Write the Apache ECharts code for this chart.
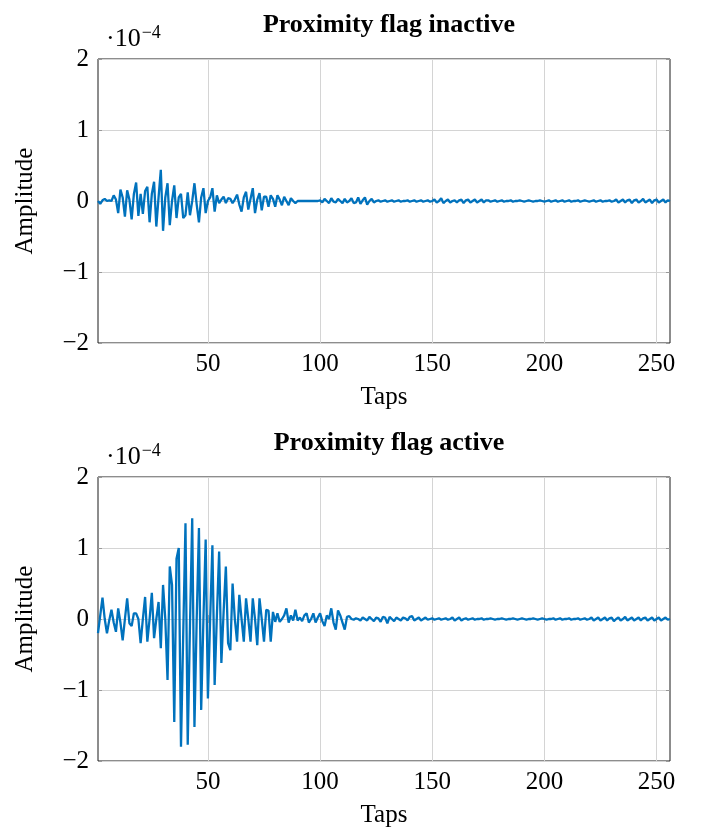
<!DOCTYPE html>
<html>
<head>
<meta charset="utf-8">
<script src="https://cdn.jsdelivr.net/npm/echarts@6/dist/echarts.min.js"></script>
<style>html,body{margin:0;padding:0;background:#fff}#c{width:705px;height:833px}</style>
</head>
<body>
<div id="c"></div>
<script>
// Titles and tick labels
const titles = ['Proximity flag inactive', 'Proximity flag active'];
const xTicks = [50, 100, 150, 200, 250];
const yTicks = [-2, -1, 0, 1, 2];
const xLabel = 'Taps';
const yLabel = 'Amplitude';
const scaleNote = '−4';

// Filter taps (amplitude in units of 1e-4), taps 1..256
const inactive = [
  0.00,-0.04,0.01,0.03,0.00,0.01,0.00,0.08,0.02,-0.17,
  0.16,0.05,-0.22,0.15,0.02,-0.26,0.10,0.26,-0.21,0.10,
  -0.18,0.14,0.20,-0.30,0.10,0.27,-0.36,0.05,0.44,-0.42,
  0.05,0.25,-0.34,0.00,0.22,-0.24,0.05,0.10,-0.24,-0.20,
  0.12,-0.20,0.00,0.25,-0.05,-0.30,0.05,0.18,-0.17,0.00,
  0.05,0.18,-0.15,0.08,-0.03,0.02,0.06,-0.03,0.04,0.03,
  -0.03,0.02,0.09,-0.05,-0.15,0.05,0.13,-0.12,0.03,0.18,
  -0.17,0.02,0.11,-0.13,0.06,0.06,-0.08,0.08,0.03,-0.08,
  0.08,0.02,-0.06,0.06,0.00,-0.06,0.04,0.00,-0.03,0.00,
  0.00,0.00,0.00,0.00,0.00,0.00,0.00,0.00,0.00,0.01,
  -0.02,0.03,0.00,-0.03,0.04,-0.01,-0.02,0.03,0.00,-0.03,
  0.03,-0.02,0.00,0.04,-0.03,-0.02,0.05,-0.04,0.01,0.05,
  -0.05,0.00,0.03,-0.02,0.00,0.01,-0.01,0.00,0.01,-0.01,
  0.00,0.01,-0.01,0.00,0.01,-0.01,0.00,0.00,0.01,-0.01,
  0.00,0.01,-0.01,0.00,0.01,-0.01,0.00,0.01,-0.01,0.00,
  0.02,-0.02,0.00,0.04,-0.03,0.00,0.02,-0.02,0.00,0.01,
  -0.02,0.01,0.02,-0.03,0.01,0.02,-0.02,0.00,0.02,-0.02,
  0.00,0.02,-0.02,0.01,0.01,-0.01,0.00,0.01,-0.01,0.00,
  0.01,-0.01,0.00,0.00,0.01,-0.01,0.00,0.00,0.01,0.00,
  -0.01,0.00,0.01,0.00,-0.01,0.00,0.00,0.01,0.00,-0.01,
  0.00,0.01,-0.01,0.00,0.01,-0.01,0.00,0.01,-0.01,0.00,
  0.01,-0.01,0.00,0.00,0.01,-0.01,0.00,0.01,0.00,-0.01,
  0.00,0.01,-0.01,0.00,0.01,-0.01,0.00,0.00,0.01,-0.01,
  0.00,0.02,-0.02,0.00,0.02,-0.02,0.01,0.02,-0.03,0.01,
  0.02,-0.02,0.00,0.03,-0.02,0.00,0.02,-0.03,0.01,0.02,
  -0.02,0.00,0.02,-0.02,0.01,0.00
];

const active = [
  -0.20,0.05,0.30,0.00,-0.20,-0.02,0.13,-0.05,-0.18,0.15,
  -0.05,-0.30,0.00,0.29,-0.06,-0.10,0.08,0.08,0.00,-0.34,
  0.00,0.31,-0.32,0.00,0.37,-0.27,0.00,0.24,-0.41,0.48,
  0.00,-0.86,0.74,0.48,-1.45,0.85,1.00,-1.80,-0.20,1.35,
  -1.77,-0.10,1.42,-1.52,0.00,1.28,-1.28,0.00,1.12,-1.12,
  0.00,1.04,-0.93,0.05,0.95,-0.62,0.10,0.74,-0.34,-0.44,
  0.50,0.00,-0.32,0.34,0.00,-0.32,0.29,0.00,-0.32,0.29,
  0.00,-0.37,0.29,0.00,-0.32,0.13,0.12,-0.32,0.10,-0.04,
  0.08,-0.04,0.00,0.05,0.15,-0.05,0.05,-0.02,0.13,-0.02,
  0.02,-0.03,0.05,0.08,-0.05,0.00,0.08,-0.05,0.02,0.08,
  -0.03,-0.10,0.05,0.00,0.15,-0.05,-0.15,0.12,0.05,-0.05,
  -0.15,0.03,0.04,0.00,-0.01,0.01,0.00,-0.02,0.02,0.00,
  -0.02,0.03,0.00,-0.03,0.02,0.01,-0.04,0.03,0.02,-0.06,
  0.03,0.00,-0.03,0.02,0.00,-0.02,0.02,0.01,-0.02,0.03,
  0.04,-0.02,0.00,0.02,-0.02,0.00,0.02,-0.01,0.00,0.01,
  -0.01,0.00,0.01,-0.01,0.00,0.01,-0.01,0.00,0.02,-0.02,
  0.00,0.02,-0.02,0.00,0.01,-0.01,0.00,0.01,-0.01,0.00,
  0.00,0.01,-0.01,0.00,0.00,0.01,0.00,-0.01,0.00,0.00,
  0.01,0.00,-0.01,0.00,0.00,0.01,0.00,-0.01,0.00,0.01,
  0.00,-0.01,0.00,0.00,0.01,0.00,-0.01,0.00,0.01,0.00,
  -0.01,0.00,0.00,0.01,-0.01,0.00,0.01,-0.01,0.00,0.00,
  0.01,-0.01,0.00,0.00,0.01,-0.01,0.00,0.01,-0.01,0.00,
  0.02,-0.02,0.00,0.02,-0.02,0.00,0.02,-0.02,0.01,0.02,
  -0.03,0.00,0.02,-0.02,0.00,0.03,-0.02,0.00,0.02,-0.02,
  0.00,0.02,-0.02,0.01,0.02,-0.02,0.00,0.02,-0.02,0.00,
  0.02,-0.02,0.00,0.02,-0.01,0.00
];

const seriesValues = [inactive, active];

const FONT = '"Liberation Serif", "Times New Roman", serif';
const LINE = '#0072BD';
const gridTops = [59, 477];
const PLOT_H = 284;

function toPairs(vals) { return vals.map((v, i) => [i + 1, v]); }
const fmtY = v => (v < 0 ? '\u2212' + Math.abs(v) : String(v));

const grids = [], xAxes = [], yAxes = [], series = [], titleOpts = [], graphics = [];

gridTops.forEach((top, g) => {
  grids.push({ left: 98, top: top, width: 572, height: PLOT_H, show: true,
    borderColor: '#1a1a1a', borderWidth: 1, backgroundColor: 'transparent', containLabel: false });
  xAxes.push({ type: 'value', gridIndex: g, min: 1, max: 256, position: 'bottom',
    axisLine: { show: false },
    axisTick: { show: true, inside: true, length: 4, customValues: xTicks, lineStyle: { color: '#999' } },
    axisLabel: { show: true, customValues: xTicks, color: '#000', fontFamily: FONT, fontSize: 25, margin: 9 },
    splitLine: { show: true, lineStyle: { color: '#d4d4d4', width: 1 } },
    name: xLabel, nameLocation: 'middle', nameGap: 42,
    nameTextStyle: { color: '#000', fontFamily: FONT, fontSize: 25 } });
  xAxes.push({ type: 'value', gridIndex: g, min: 1, max: 256, position: 'top',
    axisLine: { show: false },
    axisTick: { show: true, inside: true, length: 4, customValues: xTicks, lineStyle: { color: '#999' } },
    axisLabel: { show: false }, splitLine: { show: false } });
  yAxes.push({ type: 'value', gridIndex: g, min: -2, max: 2, interval: 1, position: 'left',
    axisLine: { show: false },
    axisTick: { show: true, inside: true, length: 4, lineStyle: { color: '#999' } },
    axisLabel: { show: true, formatter: fmtY, color: '#000', fontFamily: FONT, fontSize: 25, margin: 9 },
    splitLine: { show: true, lineStyle: { color: '#d4d4d4', width: 1 } },
    name: yLabel, nameLocation: 'middle', nameGap: 60, nameRotate: 90,
    nameTextStyle: { color: '#000', fontFamily: FONT, fontSize: 25 } });
  yAxes.push({ type: 'value', gridIndex: g, min: -2, max: 2, interval: 1, position: 'right',
    axisLine: { show: false },
    axisTick: { show: true, inside: true, length: 4, lineStyle: { color: '#999' } },
    axisLabel: { show: false }, splitLine: { show: false } });

  series.push({ type: 'line', xAxisIndex: g * 2, yAxisIndex: g * 2, data: toPairs(seriesValues[g]),
    showSymbol: false, symbol: 'none', smooth: false, clip: true,
    lineStyle: { color: LINE, width: 2.3 }, itemStyle: { color: LINE }, z: 5, animation: false });

  titleOpts.push({ text: titles[g], left: 384, textAlign: 'center', top: top - 52,
    textStyle: { fontFamily: FONT, fontSize: 26, fontWeight: 'bold', color: '#000' } });

  graphics.push({ type: 'text', left: 106, top: top - 35,
    style: { text: '{m|\u00b710}{s|' + scaleNote + '}', fill: '#000',
      rich: { m: { fontFamily: FONT, fontSize: 26, verticalAlign: 'bottom', lineHeight: 28 },
              s: { fontFamily: FONT, fontSize: 18, verticalAlign: 'top', lineHeight: 28, padding: [0, 0, 12, 1] } } } });
});

const chart = echarts.init(document.getElementById('c'), null, { renderer: 'canvas' });
chart.setOption({
  animation: false,
  backgroundColor: '#fff',
  title: titleOpts,
  grid: grids,
  xAxis: xAxes,
  yAxis: yAxes,
  series: series,
  graphic: graphics
});
</script>
</body>
</html>
